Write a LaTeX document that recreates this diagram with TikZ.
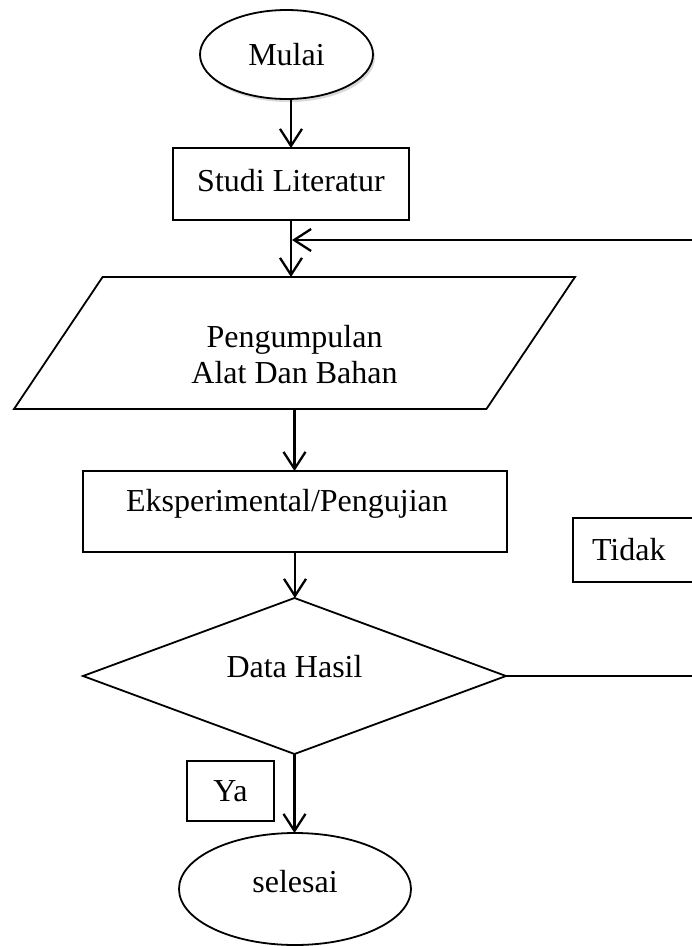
\documentclass[tikz,border=0pt]{standalone}
\usepackage{fontspec}
\setmainfont{Liberation Serif}
\usetikzlibrary{arrows.meta,shapes.geometric,shadows}

\begin{document}
\begin{tikzpicture}[x=1pt, y=-1pt,
    >={Straight Barb[length=17pt,width=22pt]},
    font=\fontsize{32}{36}\selectfont,
    kotak/.style={draw, line width=1.3pt, inner sep=0pt, outer sep=0pt},
    bulat/.style={draw, ellipse, line width=1.8pt, inner sep=0pt, outer sep=0pt},
    panah/.style={->, line width=2.3pt},
    garis/.style={line width=1.3pt}]

    % 画布边界
    \useasboundingbox (0,0) rectangle (692,946);
    \clip (0,0) rectangle (692,946);

    % 开始
    \node[bulat, fill=white, minimum width=173pt, minimum height=89pt,
          drop shadow={opacity=.3, shadow xshift=2pt, shadow yshift=-3pt}]
          (mulai) at (286.5,54.5) {Mulai};

    % 各个步骤
    \node[kotak, minimum width=236pt, minimum height=72pt,
          label={[yshift=3pt]center:Studi Literatur}] (studi) at (291,184) {};
    \node[draw, trapezium, trapezium left angle=77, trapezium right angle=103,
          trapezium stretches, line width=1.8pt, inner sep=2pt, outer sep=0pt,
          minimum width=561pt, minimum height=132pt,
          label={[align=center, yshift=-12pt]center:Pengumpulan\\Alat Dan Bahan}]
          (alat) at (294.5,343) {};
    \node[kotak, minimum width=424pt, minimum height=81pt,
          label={[xshift=-8pt, yshift=8pt]center:Eksperimental/Pengujian}]
          (eksp) at (295,511.5) {};

    % 判断
    \node[draw, diamond, line width=1.8pt, inner sep=2pt, outer sep=0pt,
          minimum width=423pt, minimum height=156pt,
          label={[yshift=9pt]center:Data Hasil}] (data) at (294.5,676) {};

    % 标签框
    \node[kotak, anchor=north west, minimum height=64pt, text width=120pt,
          inner xsep=19pt] (tidak) at (573,518) {Tidak};
    \node[kotak, minimum width=87pt, minimum height=60pt] (ya) at (230.5,791) {Ya};

    % 结束
    \node[bulat, minimum width=232pt, minimum height=112pt,
          label={[yshift=7pt]center:selesai}] (selesai) at (295,889) {};

    % 箭头
    \draw[panah] (studi.north |- mulai.south) -- (studi.north);
    \draw[panah] (studi.south) -- (studi.south |- alat.north);
    \draw[panah] (alat.south) -- (alat.south |- eksp.north);
    \draw[panah] (eksp.south) -- (eksp.south |- data.north);
    \draw[panah] (data.south) -- (data.south |- selesai.north);

    % 返回的线
    \coordinate (kanan) at (708,676);
    \coordinate (masuk) at (292,240);
    \draw[garis] (data.east) -- (kanan);
    \draw[panah] (kanan) |- (masuk);
\end{tikzpicture}
\end{document}
